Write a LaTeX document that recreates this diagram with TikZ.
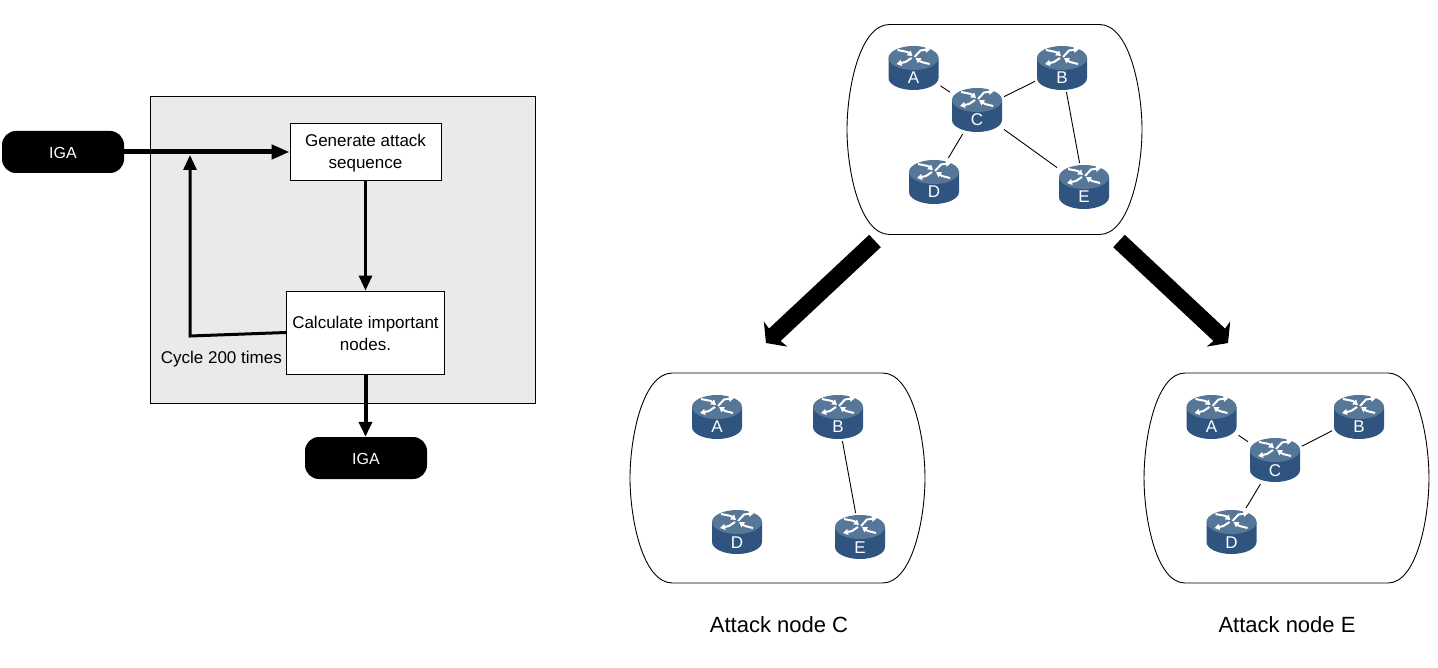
\documentclass[tikz,border=0pt]{standalone}
\usepackage{fontspec}
\setmainfont{Liberation Sans}
\usetikzlibrary{arrows.meta,calc,positioning}

\definecolor{routerbody}{RGB}{47,84,128}
\definecolor{routertop}{RGB}{86,119,151}
\definecolor{panelgray}{RGB}{234,234,234}

\newcommand{\routertext}[1]{\raisebox{-16pt}[0pt][0pt]{#1}}
\newcommand{\lift}[1]{\rule{0pt}{#1}}

\begin{document}
\begin{tikzpicture}[
		x=1pt, y=-1pt,
		font=\fontsize{17}{22}\selectfont,
		pill/.style={rounded corners=14pt, fill=black, text=white, minimum width=122pt, minimum height=42pt, inner sep=0pt, font=\fontsize{16}{18}\selectfont},
		stepbox/.style={draw, fill=white, line width=0.9pt, align=center, inner sep=0pt},
		flow/.style={-{Triangle[length=15pt, width=13pt]}, line width=3pt},
		bigarrow/.style={-{Stealth[length=13pt, width=34pt, inset=2pt]}, line width=17pt},
		link/.style={line width=0.9pt},
		routerbox/.style={minimum width=50pt, minimum height=44pt, inner sep=0pt, outer sep=2pt, text=white},
		glyph/.style={white, line width=2pt, -{Triangle[length=5pt, width=6pt]}},
		caption/.style={font=\fontsize{22}{26}\selectfont},
		router/.pic={
			\fill[routerbody] (-25,-10) -- (-25,10) arc[start angle=180, end angle=360, x radius=25pt, y radius=12pt] -- (25,-10) -- cycle;
			\fill[routertop] (0,-10) ellipse [x radius=25pt, y radius=12pt];
			\draw[glyph] (-2,-10) -- (-8,-6) -- (-17,-4);
			\draw[glyph] (1,-11) -- (7,-17.5) -- (17,-19);
			\draw[glyph] (-16,-18) -- (-6,-16) -- (-1,-12);
			\draw[glyph] (16,-4) -- (8,-6) -- (2,-10);
		},
		barrel/.pic={
			\draw[line width=0.9pt] (-105,-105) -- (105,-105)
				.. controls (135,-105) and (147.5,-40) .. (147.5,0)
				.. controls (147.5,40) and (135,105) .. (105,105)
				-- (-105,105)
				.. controls (-135,105) and (-147.5,40) .. (-147.5,0)
				.. controls (-147.5,-40) and (-135,-105) .. (-105,-105) -- cycle;
		}
		]

		\useasboundingbox (0,0) rectangle (1438,668);

		% --- Left flow chart ---
		\node[draw, fill=panelgray, line width=0.9pt, minimum width=385pt, minimum height=307pt, inner sep=0pt] (panel) at (342.5,249.5) {};
		\node[pill] (igaIn) at (63,152) {\lift{13.5pt}IGA};
		\node[stepbox, minimum width=151pt, minimum height=57pt] (generate) at (365.5,151.5) {\lift{16.5pt}Generate attack\\sequence};
		\node[stepbox, minimum width=158pt, minimum height=83pt] (calculate) at (365.5,332.5) {\lift{14.5pt}Calculate important\\nodes.};
		\node[pill] (igaOut) at (366,458) {\lift{13.5pt}IGA};
		\node[anchor=east, inner sep=0pt] (cycle) at (282,359.5) {Cycle 200 times};

		\coordinate (cycleCorner) at (190,336);
		\coordinate (cycleEnd) at (190,155);

		\draw[flow, line width=5pt, -{Triangle[length=18pt, width=14pt]}] (igaIn) -- (igaIn -| generate.west);
		\draw[flow] (generate) -- (calculate);
		\draw[flow, line width=4pt] (calculate) -- (calculate |- igaOut.north);
		\draw[flow] (calculate.west) -- (cycleCorner) -- (cycleEnd);

		% --- Router groups ---
		\pic at (994.5,129.5) {barrel};
		\pic at (777.5,478) {barrel};
		\pic[xscale=0.966] at (1286.5,478) {barrel};

		\foreach \n/\t/\x/\y in {
			topA/A/913.5/68, topB/B/1062/68, topC/C/977/110, topD/D/934/182, topE/E/1084/187,
			midA/A/717/417, midB/B/838/417, midD/D/737/532, midE/E/860/537,
			endA/A/1211.5/417, endB/B/1359/417, endC/C/1275/460, endD/D/1231.5/532}{
			\pic at (\x,\y) {router};
			\node[routerbox] (\n) at (\x,\y) {\routertext{\t}};
		}

		\draw[link] (topA) -- (topC);
		\draw[link] (topB) -- (topC);
		\draw[link] (topD) -- (topC);
		\draw[link] (topE) -- (topC);
		\draw[link] (topB) -- (topE);
		\draw[link] (midB) -- (midE);
		\draw[link] (endA) -- (endC);
		\draw[link] (endB) -- (endC);
		\draw[link] (endD) -- (endC);

		% --- Attack arrows ---
		\coordinate (leftFrom) at (875,241);
		\coordinate (leftTo) at (766,343);
		\coordinate (rightFrom) at (1119,241);
		\coordinate (rightTo) at (1228,343);
		\draw[bigarrow] (leftFrom) -- (leftTo);
		\draw[bigarrow] (rightFrom) -- (rightTo);

		\node[caption] (attackC) at (779,624.5) {Attack node C};
		\node[caption] (attackE) at (1287,624.5) {Attack node E};

	\end{tikzpicture}
\end{document}
